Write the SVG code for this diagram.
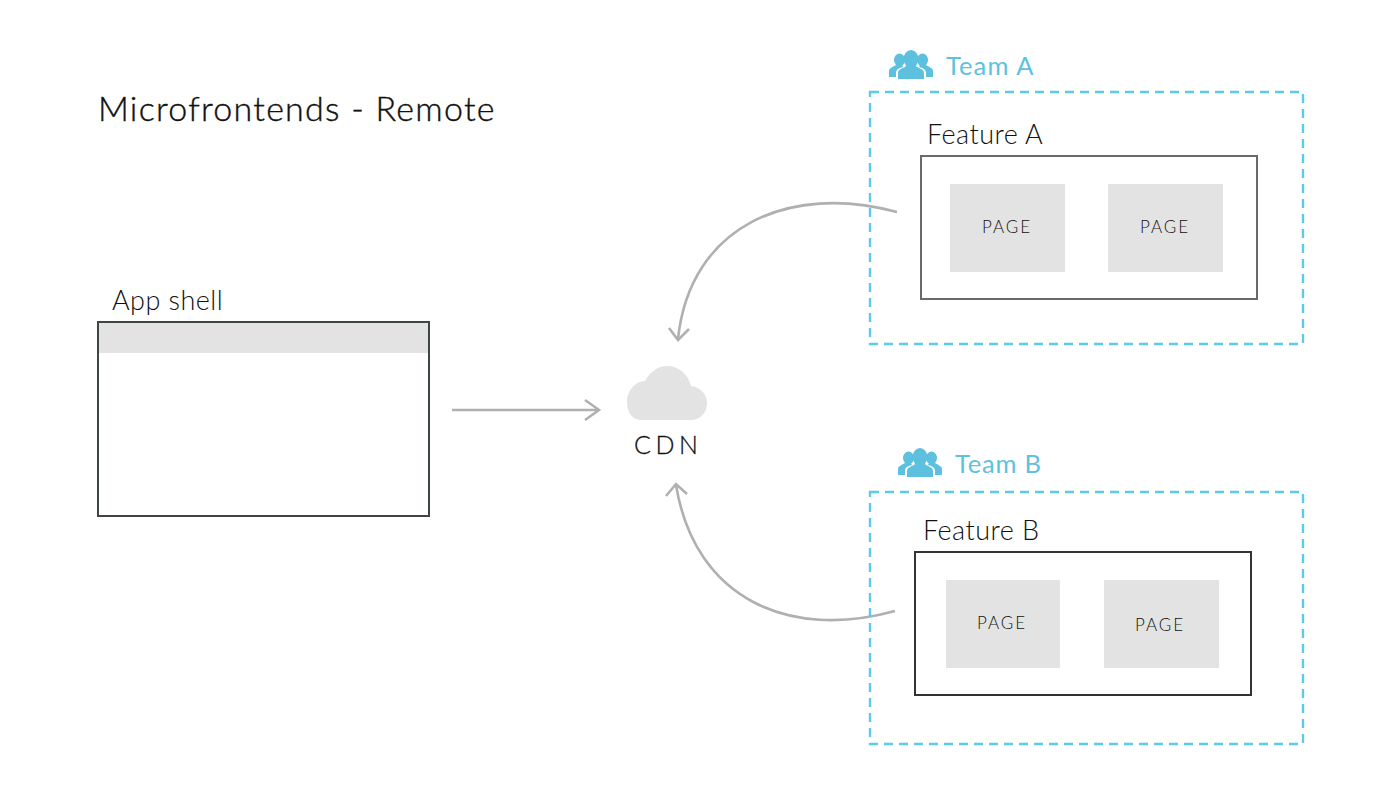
<svg xmlns="http://www.w3.org/2000/svg" width="1400" height="788" viewBox="0 0 1400 788">
<style>
text{font-family:"Lato","Liberation Sans",sans-serif;fill:#111}
.t{font-size:27px;font-weight:300;letter-spacing:.45px}
.title{font-size:34px;font-weight:300;letter-spacing:1.25px;stroke:#111;stroke-width:.4}
.team{font-size:25.500px;fill:#5cc2e0;letter-spacing:1.1px}
.pg{font-size:17px;font-weight:300;letter-spacing:1.9px;fill:#111;text-anchor:middle}
.dash{fill:none;stroke:#5ccbe8;stroke-width:2.4;stroke-dasharray:9 6}
.page{fill:#e3e3e3}
.conn{fill:none;stroke:#b0b0b0;stroke-width:2.6}
.ic{fill:#5cc0de}
</style>
<defs>
<g id="people">
<ellipse cx="10.500" cy="10" rx="5.500" ry="6.500" class="ic"/>
<ellipse cx="33.500" cy="10" rx="5.500" ry="6.500" class="ic"/>
<path class="ic" d="M0 27V21C0 18 4 17 7 15L13 15L14 17C10 18 7 19.500 7 23V27Z"/>
<path class="ic" d="M44 27V21C44 18 40 17 37 15L31 15L30 17C34 18 37 19.500 37 23V27Z"/>
<ellipse cx="22" cy="9" rx="7.500" ry="9" class="ic"/>
<path class="ic" d="M9 29V23C9 19.500 13 18.500 16 17L18 15H26L28 17C31 18.500 35 19.500 35 23V29Z"/>
</g>
</defs>
<text class="title" x="98" y="121">Microfrontends - Remote</text>
<g id="connectors">
<path class="conn" d="M452 410H598"/>
<path class="conn" d="M585 400L599 410L585 420"/>
<path class="conn" d="M897 212C790 183 690 225 678 339"/>
<path class="conn" d="M669 328L678 340L689 329"/>
<path class="conn" d="M895 611C790 640 695 600 676 485"/>
<path class="conn" d="M666 496L676 484L687 494"/>
</g>
<g id="app-shell">
<text class="t" x="112" y="310">App shell</text>
<rect x="98" y="322" width="331" height="31" fill="#e3e3e3"/>
<rect x="98" y="322" width="331" height="194" fill="none" stroke="#3f4545" stroke-width="2"/>
</g>
<g id="cdn">
<path fill="#e3e3e3" d="M641 420C633 420 627 413 627 402C627 390 636 381 645 381C650 372 658 366 667 366C679 366 688 374 691 386C701 387 707 395 707 403C707 413 700 420 691 420Z"/>
<text x="634" y="454" style="font-size:25px;font-weight:300;letter-spacing:4.600px;stroke:#111;stroke-width:.3">CDN</text>
</g>
<g id="team-a">
<use href="#people" x="889" y="50"/>
<text class="team" x="946" y="75">Team A</text>
<rect class="dash" x="870" y="92" width="433" height="252"/>
</g>
<g id="feature-a">
<text class="t" x="927" y="144">Feature A</text>
<rect x="921" y="156" width="336" height="143" fill="none" stroke="#6a6a6a" stroke-width="2"/>
</g>
<g id="page-a1"><rect class="page" x="950" y="184" width="115" height="88"/><text class="pg" x="1007" y="233">PAGE</text></g>
<g id="page-a2"><rect class="page" x="1108" y="184" width="115" height="88"/><text class="pg" x="1165" y="233">PAGE</text></g>
<g id="team-b">
<use href="#people" x="898" y="448"/>
<text class="team" x="955" y="473" style="letter-spacing:.8px">Team B</text>
<rect class="dash" x="870" y="492" width="433" height="252"/>
</g>
<g id="feature-b">
<text class="t" x="923" y="540">Feature B</text>
<rect x="915" y="552" width="336" height="143" fill="none" stroke="#333" stroke-width="2"/>
</g>
<g id="page-b1"><rect class="page" x="946" y="580" width="114" height="88"/><text class="pg" x="1002" y="629">PAGE</text></g>
<g id="page-b2"><rect class="page" x="1104" y="580" width="115" height="88"/><text class="pg" x="1160" y="631">PAGE</text></g>
</svg>
